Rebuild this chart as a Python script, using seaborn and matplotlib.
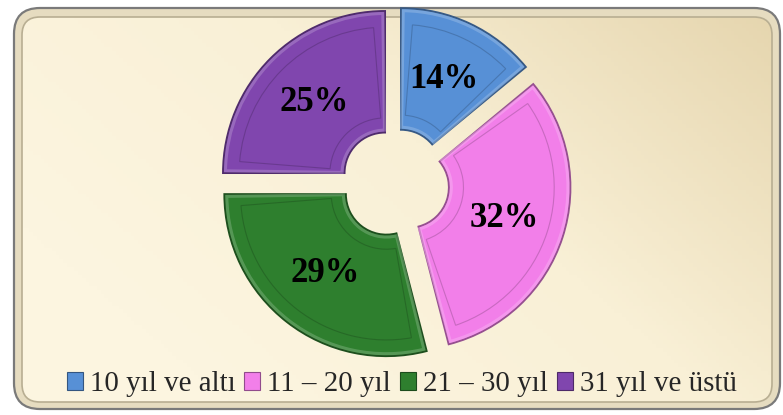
import numpy as np
import matplotlib
matplotlib.use("Agg")
import matplotlib.pyplot as plt
import seaborn as sns
from matplotlib.patches import FancyBboxPatch, Wedge, Patch
from matplotlib.colors import LinearSegmentedColormap, to_rgb

# Data
categories = ["10 yıl ve altı", "11 – 20 yıl", "21 – 30 yıl", "31 yıl ve üstü"]
shares = [14, 32, 29, 25]
colors = ["#5790D6", "#F27FE9", "#2E7F2E", "#8046AE"]

sns.set_style("white")
plt.rcParams["font.family"] = ["Liberation Serif", "DejaVu Serif"]

W, H = 783, 415
fig = plt.figure(figsize=(W / 100, H / 100), dpi=100)
fig.patch.set_facecolor("white")

# Background panel with rounded frame and cream gradient
bg = fig.add_axes([0, 0, 1, 1])
bg.set_xlim(0, W)
bg.set_ylim(0, H)
bg.axis("off")

outer = FancyBboxPatch((14, 6), 766, 401, boxstyle="round,pad=0,rounding_size=26",
                       facecolor="#E6DCC0", edgecolor="#7A7A7A", lw=1.6)
bg.add_patch(outer)

gx, gy = np.meshgrid(np.linspace(0, 1, 200), np.linspace(0, 1, 100))
grad = np.clip(0.75 * gx + 0.45 * gy - 0.2, 0, 1)
cmap = LinearSegmentedColormap.from_list("cream", ["#FCF5E0", "#F9F0D6", "#E6D6AF"])
img = bg.imshow(grad, extent=(22, 772, 13, 398), origin="lower", cmap=cmap,
                aspect="auto", zorder=1)
inner = FancyBboxPatch((22, 13), 750, 385, boxstyle="round,pad=0,rounding_size=18",
                       facecolor="none", edgecolor="#B8AE92", lw=1.2, zorder=2)
bg.add_patch(inner)
img.set_clip_path(inner)

# Doughnut
cx, cy, R = 395, 232, 162
L = 1.2
half = L * R
ax = fig.add_axes([(cx - half) / W, (cy - half) / H, 2 * half / W, 2 * half / H])
ax.patch.set_alpha(0)

explode = [0.087] * len(shares)
wedges, texts, autotexts = ax.pie(
    shares, colors=colors, startangle=90, counterclock=False, explode=explode,
    radius=1, autopct="%d%%", pctdistance=0.62,
    wedgeprops=dict(width=0.75, edgecolor="none"),
    textprops=dict(fontsize=25, fontweight="bold", color="black"))

# bevel-like outlines
for w, c in zip(wedges, colors):
    rgb = np.array(to_rgb(c))
    dark = tuple(rgb * 0.62)
    light = tuple(np.clip(rgb + (1 - rgb) * 0.35, 0, 1))
    w.set_edgecolor(dark)
    w.set_linewidth(1.4)
    th1, th2 = w.theta1, w.theta2
    ccx, ccy = w.center
    ax.add_patch(Wedge((ccx, ccy), 0.985, th1 + 0.8, th2 - 0.8, width=0.72,
                       facecolor="none", edgecolor=light, lw=2.2, alpha=0.55))
    ax.add_patch(Wedge((ccx, ccy), 0.9, th1 + 4.5, th2 - 4.5, width=0.56,
                       facecolor="none", edgecolor=dark, lw=0.8, alpha=0.45))

ax.set_xlim(-L, L)
ax.set_ylim(-L, L)
ax.set_aspect("equal")
ax.axis("off")

# Legend
handles = [Patch(facecolor=c, edgecolor=tuple(np.array(to_rgb(c)) * 0.6), lw=0.8)
           for c in colors]
fig.legend(handles, categories, loc="center", bbox_to_anchor=(0.513, 0.074),
           ncol=4, frameon=False, fontsize=20.9, handlelength=0.55, handleheight=0.6,
           handletextpad=0.25, columnspacing=0.3, borderaxespad=0)

fig.savefig("out.png", dpi=100)
